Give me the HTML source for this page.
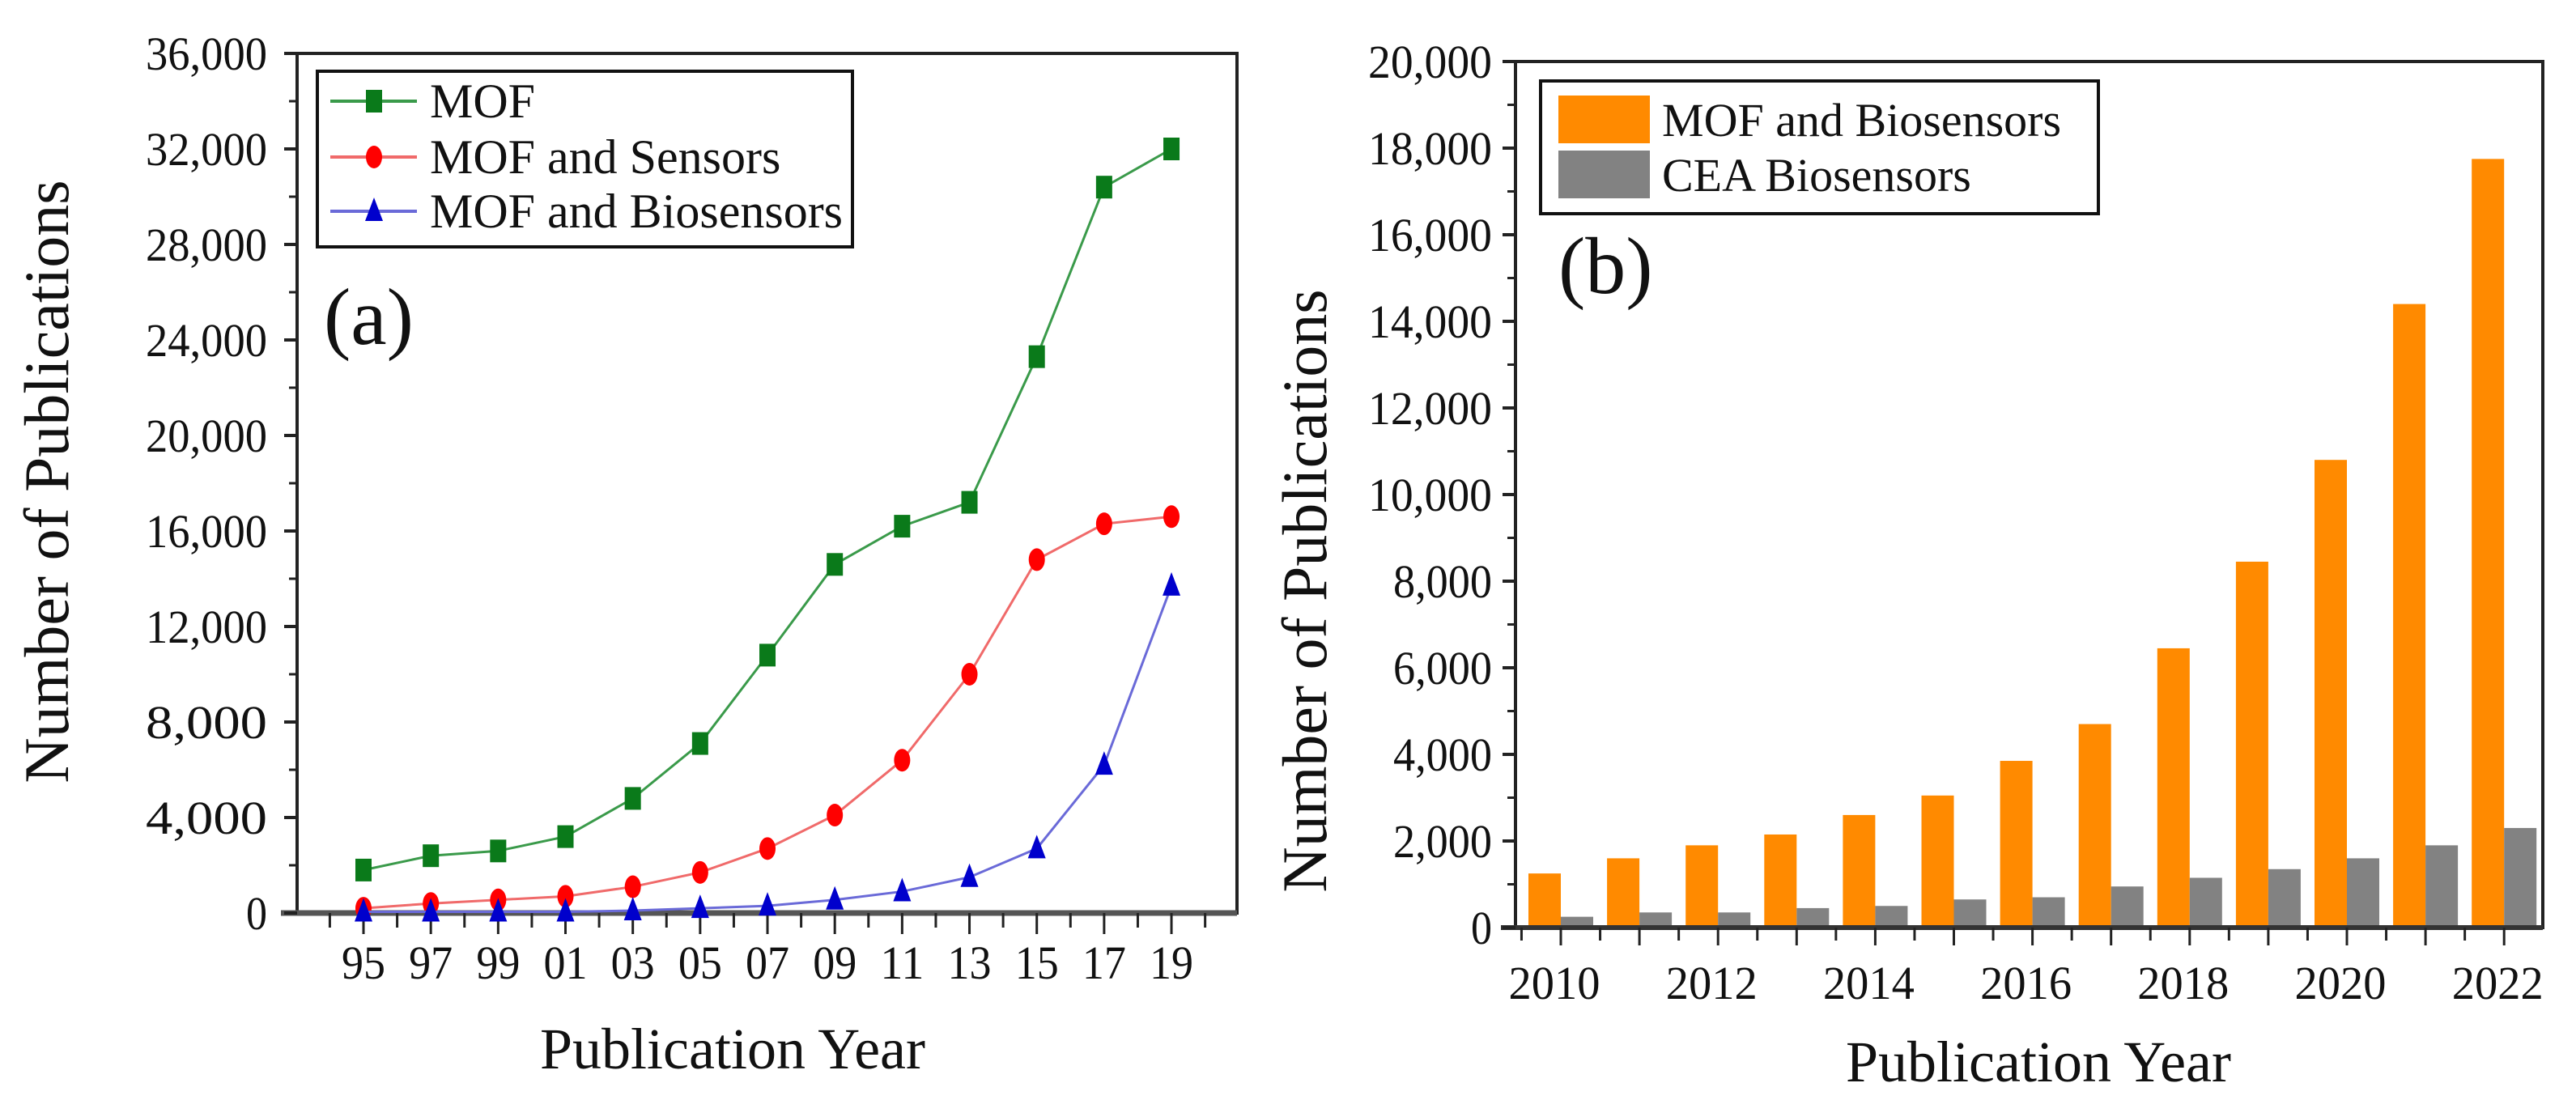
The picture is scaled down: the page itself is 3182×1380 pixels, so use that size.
<!DOCTYPE html>
<html><head><meta charset="utf-8"><style>
html,body{margin:0;padding:0;background:#fff;}
svg text{font-family:"Liberation Serif",serif;fill:#111;}
</style></head><body>
<svg id="fig" width="3182" height="1375" viewBox="0 0 3182 1375" xmlns="http://www.w3.org/2000/svg">
<g id="pa"></g>
<g id="pb"></g>
</svg>
<script>
// Panel (a) data
const yearsA = ["95","97","99","01","03","05","07","09","11","13","15","17","19"];
const mofA = [1800,2400,2600,3200,4800,7100,10800,14600,16200,17200,23300,30400,32000];
const sensorsA = [200,400,550,700,1100,1700,2700,4100,6400,10000,14800,16300,16600];
const bioA = [50,50,50,50,100,200,300,550,900,1500,2700,6200,13700];
const yTicksA = [0,4000,8000,12000,16000,20000,24000,28000,32000,36000];
// Panel (b) data
const yearsB = [2010,2011,2012,2013,2014,2015,2016,2017,2018,2019,2020,2021,2022];
const mofBio = [1250,1600,1900,2150,2600,3050,3850,4700,6450,8450,10800,14400,17750];
const ceaBio = [250,350,350,450,500,650,700,950,1150,1350,1600,1900,2300];
const yTicksB = [0,2000,4000,6000,8000,10000,12000,14000,16000,18000,20000];
const xLabelsB = [2010,2012,2014,2016,2018,2020,2022];

const NS="http://www.w3.org/2000/svg";
function mk(parent,tag,attrs,text){const e=document.createElementNS(NS,tag);for(const k in attrs)e.setAttribute(k,attrs[k]);if(text!==undefined)e.textContent=text;parent.appendChild(e);return e;}
const fmt=v=>v.toLocaleString('en-US');

// ---------- Panel A ----------
const pa=document.getElementById('pa');
const aL=367,aR=1528,aT=66,aB=1128;
const yA=v=>aB-(v/36000)*(aB-aT);
const xA=i=>449+i*83.17;
let e;
e=mk(pa,'rect',{x:aL,y:aT,width:aR-aL,height:aB-aT,fill:'none',stroke:'#222','stroke-width':4});


e=mk(pa,'line',{x1:aL-20,y1:aB,x2:aR,y2:aB,stroke:'#555','stroke-width':7});


yTicksA.forEach(v=>{
  const y=yA(v);
  e=mk(pa,'line',{x1:aL-16,y1:y,x2:aL,y2:y,stroke:'#222','stroke-width':4});
  
  
  e=mk(pa,'text',{x:330,y:y+20,'font-size':58,'text-anchor':'end',textLength:(fmt(v).length>1?150:26),lengthAdjust:'spacingAndGlyphs'},fmt(v));
  
  
  if(v<36000){const ym=yA(v+2000);
    e=mk(pa,'line',{x1:aL-10,y1:ym,x2:aL,y2:ym,stroke:'#222','stroke-width':3});
    
    }
});
for(let k=-1;k<=26;k++){
  const x=449+k*41.585; if(x<aL||x>aR)continue;
  const major=(k%2===0&&k>=0&&k<=24);
  e=mk(pa,'line',{x1:x,y1:aB,x2:x,y2:aB+(major?26:18),stroke:'#222','stroke-width':3});
  
  
}
yearsA.forEach((l,i)=>{
  e=mk(pa,'text',{x:xA(i),y:1209,'font-size':58,'text-anchor':'middle',textLength:54,lengthAdjust:'spacingAndGlyphs'},l);
  
  
});
function series(vals,line,mark,shape,name){
  const pts=vals.map((v,i)=>xA(i)+','+yA(v)).join(' ');
  e=mk(pa,'polyline',{points:pts,fill:'none',stroke:line,'stroke-width':3});
  
  
  vals.forEach((v,i)=>{
    const x=xA(i),y=yA(v);
    if(shape==='sq')e=mk(pa,'rect',{x:x-10,y:y-14,width:20,height:28,fill:mark});
    else if(shape==='ci')e=mk(pa,'ellipse',{cx:x,cy:y,rx:10,ry:14,fill:mark});
    else e=mk(pa,'polygon',{points:`${x},${y-17} ${x-11},${y+12} ${x+11},${y+12}`,fill:mark});
    
    
  });
}
series(mofA,'#3a9a4a','#0a7a1a','sq','mof');
series(sensorsA,'#f06a6a','#ff0000','ci','mof-sensors');
series(bioA,'#6a6ad8','#0000cc','tr','mof-biosensors');
// legend a
e=mk(pa,'rect',{x:392,y:88,width:661,height:217,fill:'#fff',stroke:'#111','stroke-width':4});


[['MOF','#3a9a4a','#0a7a1a','sq',125],['MOF and Sensors','#f06a6a','#ff0000','ci',194],['MOF and Biosensors','#6a6ad8','#0000cc','tr',261]].forEach(r=>{
  const [lab,lc,mc,sh,y]=r;
  mk(pa,'line',{x1:408,y1:y,x2:515,y2:y,stroke:lc,'stroke-width':4});
  const x=462;
  if(sh==='sq')mk(pa,'rect',{x:x-10,y:y-14,width:20,height:28,fill:mc});
  else if(sh==='ci')mk(pa,'ellipse',{cx:x,cy:y,rx:10,ry:14,fill:mc});
  else mk(pa,'polygon',{points:`${x},${y-17} ${x-11},${y+12} ${x+11},${y+12}`,fill:mc});
  e=mk(pa,'text',{x:531,y:y+20,'font-size':60},lab);
  
  
});
e=mk(pa,'text',{x:400,y:425,'font-size':100},'(a)');


e=mk(pa,'text',{x:0,y:0,'font-size':78,'text-anchor':'middle',transform:'translate(84,595) rotate(-90)'},'Number of Publications');


e=mk(pa,'text',{x:905,y:1320,'font-size':72,'text-anchor':'middle'},'Publication Year');



// ---------- Panel B ----------
const pb=document.getElementById('pb');
const bL=1872,bR=3141,bT=76,bB=1146;
const yB=v=>bB-(v/20000)*(bB-bT);
const xB=yr=>1928+(yr-2010)*97.1;
e=mk(pb,'rect',{x:bL,y:bT,width:bR-bL,height:bB-bT,fill:'none',stroke:'#222','stroke-width':4});


yearsB.forEach((yr,i)=>{
  const c=xB(yr);
  e=mk(pb,'rect',{x:c-40,y:yB(mofBio[i]),width:40,height:bB-yB(mofBio[i]),fill:'#ff8a00'});
  
  
  e=mk(pb,'rect',{x:c,y:yB(ceaBio[i]),width:40,height:bB-yB(ceaBio[i]),fill:'#828282'});
  
  
});
e=mk(pb,'line',{x1:bL-18,y1:bB,x2:bR,y2:bB,stroke:'#333','stroke-width':6});


yTicksB.forEach(v=>{
  const y=yB(v);
  e=mk(pb,'line',{x1:bL-16,y1:y,x2:bL,y2:y,stroke:'#222','stroke-width':4});
  
  
  e=mk(pb,'text',{x:1843,y:y+20,'font-size':58,'text-anchor':'end',textLength:(fmt(v).length>1?(v>=10000?153:122):26),lengthAdjust:'spacingAndGlyphs'},fmt(v));
  
  
  if(v<20000){const ym=yB(v+1000);
    e=mk(pb,'line',{x1:bL-10,y1:ym,x2:bL,y2:ym,stroke:'#222','stroke-width':3});
    
    }
});
for(let k=0;k<=25;k++){
  const x=1928+(k-0.5)*48.55+24.27; 
  const xx=1928-48.55+k*48.55; if(xx<bL||xx>bR)continue;
  const major=(k%2===1);
  e=mk(pb,'line',{x1:xx,y1:bB,x2:xx,y2:bB+(major?22:16),stroke:'#222','stroke-width':3});
  
  
}
xLabelsB.forEach(yr=>{
  e=mk(pb,'text',{x:xB(yr)-8,y:1234,'font-size':58,'text-anchor':'middle',textLength:113,lengthAdjust:'spacingAndGlyphs'},String(yr));
  
  
});
e=mk(pb,'rect',{x:1903,y:100,width:689,height:164,fill:'#fff',stroke:'#111','stroke-width':4});


mk(pb,'rect',{x:1925,y:118,width:113,height:59,fill:'#ff8a00'});
mk(pb,'rect',{x:1925,y:186,width:113,height:59,fill:'#828282'});
e=mk(pb,'text',{x:2053,y:168,'font-size':58},'MOF and Biosensors');


e=mk(pb,'text',{x:2053,y:236,'font-size':58},'CEA Biosensors');


e=mk(pb,'text',{x:1925,y:362,'font-size':100},'(b)');


e=mk(pb,'text',{x:0,y:0,'font-size':78,'text-anchor':'middle',transform:'translate(1638,730) rotate(-90)'},'Number of Publications');


e=mk(pb,'text',{x:2518,y:1336,'font-size':72,'text-anchor':'middle'},'Publication Year');


</script>
</body></html>
